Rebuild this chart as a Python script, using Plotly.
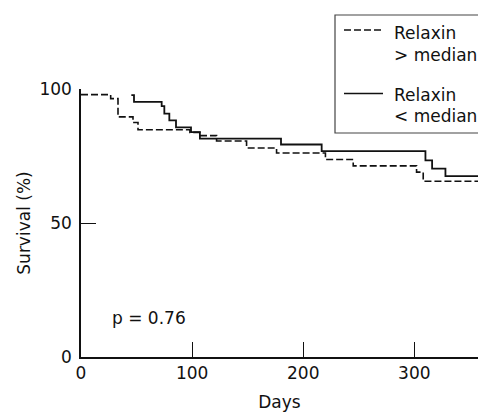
import plotly.graph_objects as go

# Kaplan-Meier steps
days_hi = [0, 26.7, 33.3, 46.8, 51.3, 98, 107, 122, 149, 176, 220, 245, 302, 308, 362]
surv_hi = [97.9, 96.4, 89.6, 87.5, 84.8, 83.8, 82.6, 80.6, 78.0, 76.1, 73.7, 71.3, 69.0, 65.6, 65.6]

days_lo = [45.3, 47.7, 72.6, 75, 79.5, 85.5, 99, 107, 180, 216.6, 310, 316, 328, 362]
surv_lo = [97.7, 95.2, 93.6, 90.8, 88.3, 85.7, 83.9, 81.5, 79.3, 76.8, 73.4, 70.3, 67.5, 67.5]

x_ticks = [0, 100, 200, 300]
y_ticks = [0, 50, 100]
p_text = "p = 0.76"

FONT = "DejaVu Sans"
INK = "#111111"

fig = go.Figure()
fig.add_trace(go.Scatter(x=days_hi, y=surv_hi, mode="lines", line_shape="hv",
                         line=dict(color=INK, width=1.6, dash="7px,3px"),
                         name="Relaxin > median", showlegend=False))
fig.add_trace(go.Scatter(x=days_lo, y=surv_lo, mode="lines", line_shape="hv",
                         line=dict(color=INK, width=1.8),
                         name="Relaxin < median", showlegend=False))

# p-value
fig.add_annotation(x=26, y=14.7, xref="x", yref="y", text=p_text, showarrow=False,
                   xanchor="left", yanchor="middle", font=dict(size=17, color=INK, family=FONT))

# manual legend (paper coords; plot area px 81..478 x, 89..357 y)
def px(xp):
    return (xp - 81) / 397.0

def py(yp):
    return (357 - yp) / 268.0

fig.add_shape(type="rect", xref="paper", yref="paper", x0=px(335), x1=px(520), y0=py(133), y1=py(15),
              line=dict(color="#444444", width=1.2), fillcolor="white")
fig.add_shape(type="line", xref="paper", yref="paper", x0=px(344), x1=px(383), y0=py(30), y1=py(30),
              line=dict(color=INK, width=1.5, dash="7px,3px"))
fig.add_shape(type="line", xref="paper", yref="paper", x0=px(344), x1=px(383), y0=py(93.5), y1=py(93.5),
              line=dict(color=INK, width=1.5))
for txt, yy in [("Relaxin", 33), ("> median", 55), ("Relaxin", 95), ("< median", 116)]:
    fig.add_annotation(x=px(391.5), y=py(yy), xref="paper", yref="paper", text=txt, showarrow=False,
                       xanchor="left", yanchor="middle", font=dict(size=17, color=INK, family=FONT))

fig.update_layout(
    width=478, height=412,
    margin=dict(l=81, r=0, t=89, b=55),
    paper_bgcolor="white", plot_bgcolor="white",
    font=dict(family=FONT, size=17, color=INK),
    showlegend=False,
)
fig.update_xaxes(range=[0, 357.3], tickvals=x_ticks, ticks="inside", ticklen=15, tickwidth=1.3,
                 tickcolor=INK, showline=True, linecolor=INK, linewidth=1.5, showgrid=False,
                 zeroline=False, ticklabelstandoff=0,
                 title=dict(text="Days", standoff=18, font=dict(size=17, family=FONT, color=INK)))
fig.update_yaxes(range=[0, 100], tickvals=y_ticks, ticks="inside", ticklen=15, tickwidth=1.3,
                 tickcolor=INK, showline=True, linecolor=INK, linewidth=1.5, showgrid=False,
                 zeroline=False, ticklabelstandoff=4,
                 title=dict(text="Survival (%)", standoff=4, font=dict(size=17, family=FONT, color=INK)))

fig.write_html("out.html")
